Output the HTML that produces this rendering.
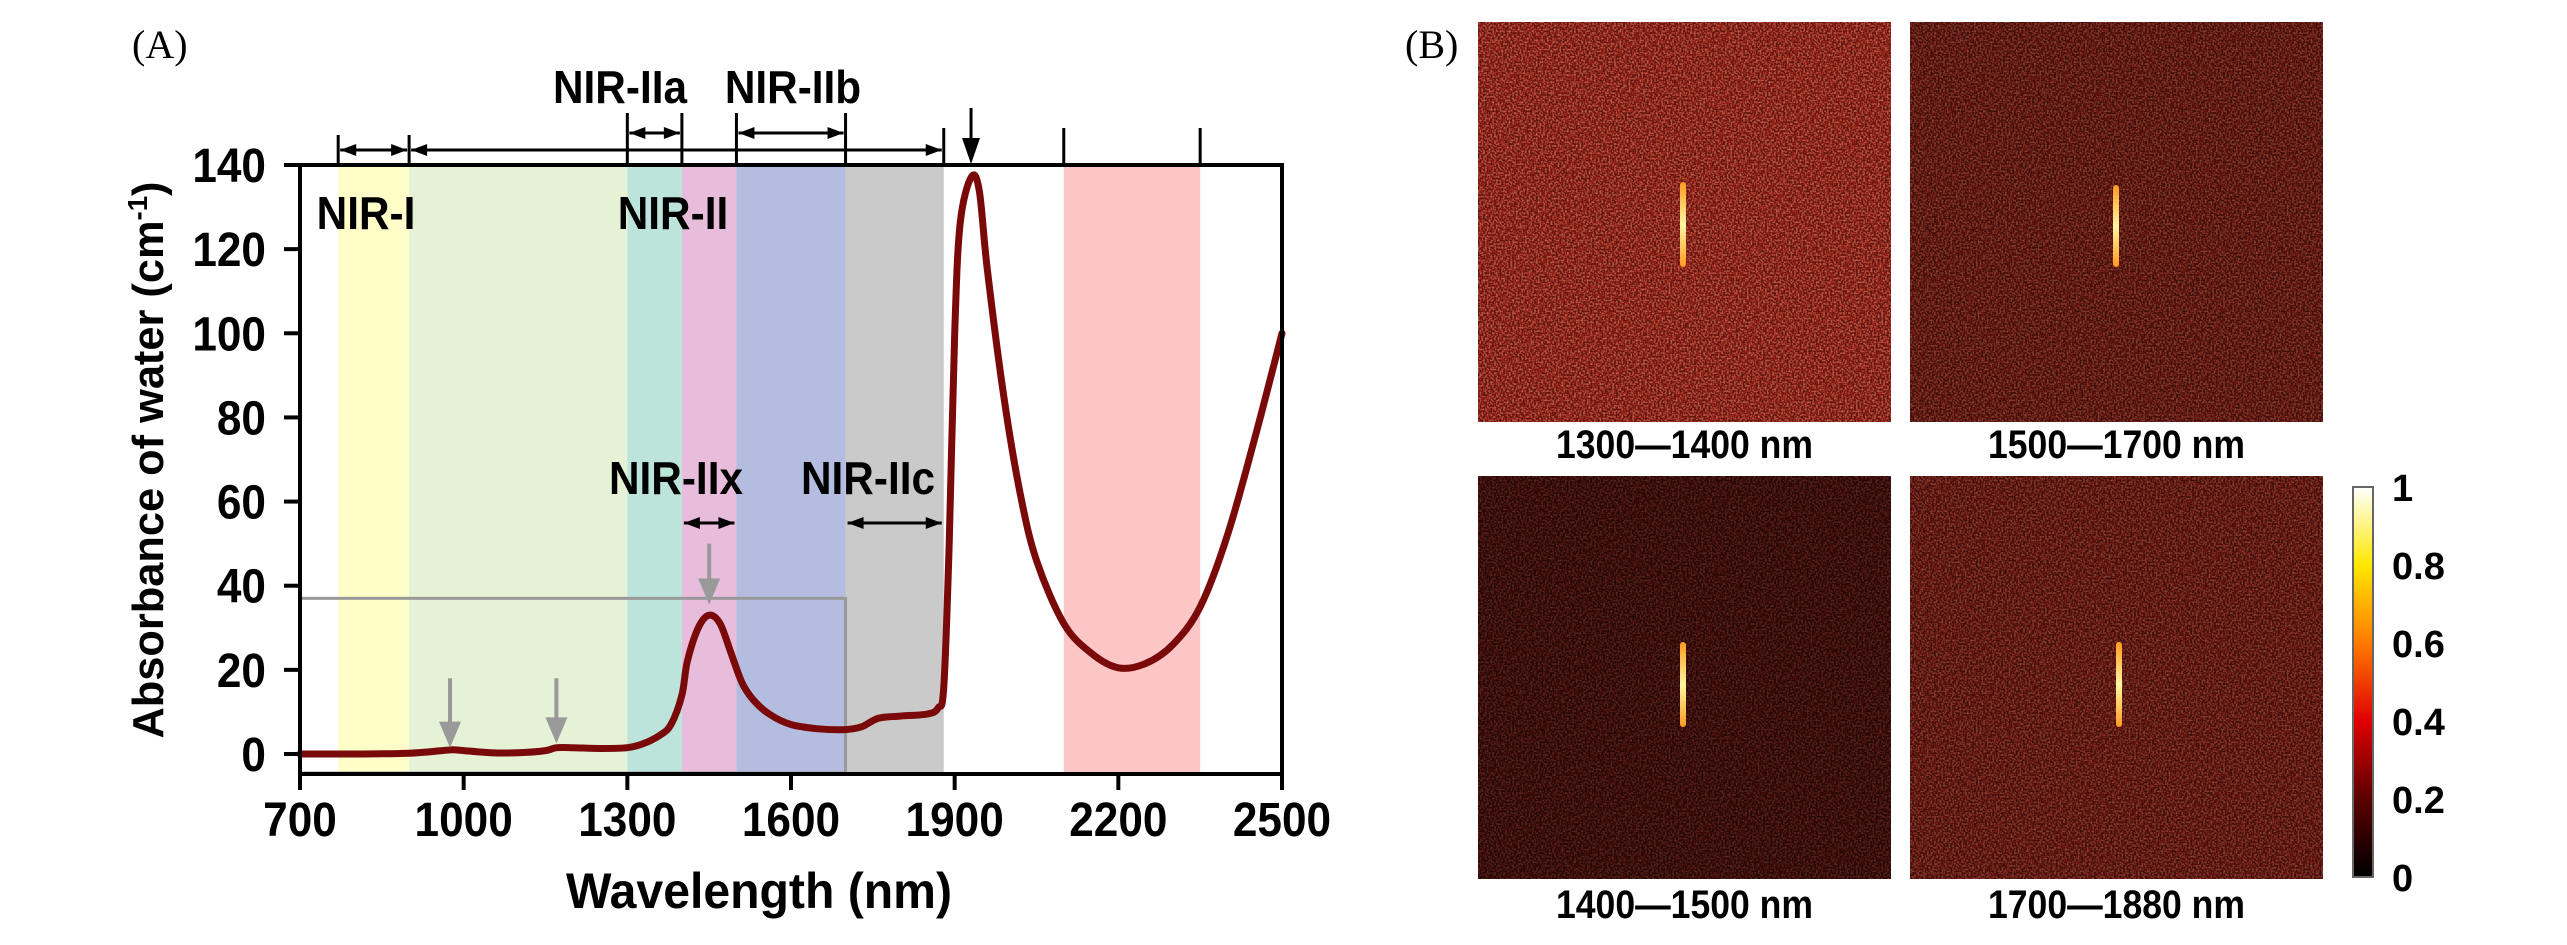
<!DOCTYPE html>
<html><head><meta charset="utf-8"><style>
html,body{margin:0;padding:0;background:#fff;}
svg{display:block;font-family:"Liberation Sans",Arial,sans-serif;}
</style></head><body>
<svg id="fig" width="2567" height="945" viewBox="0 0 2567 945" xmlns="http://www.w3.org/2000/svg">
<defs>
<filter id="noise" x="0" y="0" width="100%" height="100%">
<feTurbulence type="fractalNoise" baseFrequency="0.55" numOctaves="1" seed="3"/>
<feColorMatrix type="matrix" values="2.6 0 0 0 -1.0  0.9 0 0 0 -0.45  0.6 0 0 0 -0.3  0 0 0 0 1"/>
</filter>
<linearGradient id="cbar" x1="0" y1="1" x2="0" y2="0">
<stop offset="0" stop-color="#000"/>
<stop offset="0.2" stop-color="#5a0000"/>
<stop offset="0.4" stop-color="#e00000"/>
<stop offset="0.6" stop-color="#ff7a00"/>
<stop offset="0.8" stop-color="#ffe800"/>
<stop offset="1" stop-color="#ffffff"/>
</linearGradient>
<linearGradient id="beam" x1="0" y1="0" x2="0" y2="1">
<stop offset="0" stop-color="#ff9a20"/><stop offset="0.5" stop-color="#fff6a0"/><stop offset="1" stop-color="#ff9a20"/>
</linearGradient>
</defs>
<text x="132" y="58" font-family="Liberation Serif,serif" font-size="40">(A)</text>
<text x="1405" y="58" font-family="Liberation Serif,serif" font-size="40">(B)</text>
<g id="chartA"></g>
<g id="panelB"></g>
</svg>
<script>
const wavelengths=[700,800,900,960,980,1000,1050,1100,1150,1170,1200,1250,1300,1330,1360,1380,1400,1410,1430,1450,1470,1490,1510,1530,1560,1600,1650,1700,1730,1760,1800,1850,1870,1880,1890,1900,1910,1930,1945,1960,1990,2020,2050,2100,2150,2200,2250,2300,2350,2400,2450,2500];
const absorbance=[0,0,0.2,0.8,1,0.8,0.3,0.3,0.8,1.5,1.5,1.3,1.5,2.5,4.5,7,14,22,30,33,31,24,17,13,9.5,7,6,5.8,6.5,8.5,9,9.5,11,16,50,100,126,137,134,115,85,62,46,31,24,20.5,21.5,26,35,52,75,100];
const xTicks=[700,1000,1300,1600,1900,2200,2500];
const yTicks=[0,20,40,60,80,100,120,140];
const bandStarts=[770,900,1300,1400,1500,1700,2100];
const bandEnds=[900,1300,1400,1500,1700,1880,2350];
const bandColors=["#fffdc8","#e6f2d6","#bde4da","#e8bddc","#b4bde0","#cacaca","#fcc6c6"];
const cbTicks=["1","0.8","0.6","0.4","0.2","0"];
const tileLabels=["1300—1400 nm","1500—1700 nm","1400—1500 nm","1700—1880 nm"];

const NS="http://www.w3.org/2000/svg";
const X0=300,X1=1282,YT=165,YB=774;
const xs=v=>X0+(v-700)/1800*(X1-X0);
const ys=v=>754-v*(754-165)/140;
function mk(p,tag,attrs,txt){const e=document.createElementNS(NS,tag);for(const k in attrs)e.setAttribute(k,attrs[k]);if(txt!==undefined)e.textContent=txt;p.appendChild(e);return e;}
const A=document.getElementById('chartA');
bandStarts.forEach((s,i)=>{
 const r=mk(A,'rect',{x:xs(s),y:YT,width:xs(bandEnds[i])-xs(s),height:YB-YT,fill:bandColors[i]});
 
 
});
const gb=mk(A,'rect',{x:xs(700),y:ys(37),width:xs(1700)-xs(700),height:773-ys(37),fill:'none',stroke:'#999',"stroke-width":3});


// smooth curve (Catmull-Rom)
const pts=wavelengths.map((w,i)=>[xs(w),ys(absorbance[i])]);
let d='M'+pts[0][0].toFixed(1)+','+pts[0][1].toFixed(1);
for(let i=0;i<pts.length-1;i++){
 const p0=pts[Math.max(0,i-1)],p1=pts[i],p2=pts[i+1],p3=pts[Math.min(pts.length-1,i+2)];
 const c1=[p1[0]+(p2[0]-p0[0])/6,p1[1]+(p2[1]-p0[1])/6];
 const c2=[p2[0]-(p3[0]-p1[0])/6,p2[1]-(p3[1]-p1[1])/6];
 d+=`C${c1[0].toFixed(1)},${c1[1].toFixed(1)} ${c2[0].toFixed(1)},${c2[1].toFixed(1)} ${p2[0].toFixed(1)},${p2[1].toFixed(1)}`;
}
const cv=mk(A,'path',{d:d,fill:'none',stroke:'#7a0a0a',"stroke-width":7,"stroke-linejoin":"round","stroke-linecap":"round"});


const fr=mk(A,'rect',{x:X0,y:YT,width:X1-X0,height:YB-YT,fill:'none',stroke:'#000',"stroke-width":4});


xTicks.forEach(t=>{
 mk(A,'line',{x1:xs(t),y1:YB,x2:xs(t),y2:YB+16,stroke:'#000',"stroke-width":4});
 const l=mk(A,'text',{x:xs(t),y:836,"font-size":48,"font-weight":"bold","text-anchor":"middle",transform:`translate(${xs(t)},0) scale(0.92,1) translate(${-xs(t)},0)`},t);
 
 
});
yTicks.forEach(t=>{
 mk(A,'line',{x1:X0-16,y1:ys(t),x2:X0,y2:ys(t),stroke:'#000',"stroke-width":4});
 const l=mk(A,'text',{x:266,y:ys(t)+17,"font-size":48,"font-weight":"bold","text-anchor":"end",transform:`translate(266,0) scale(0.92,1) translate(-266,0)`},t);
 
 
});
const yt=mk(A,'text',{x:0,y:0,"font-size":44,"font-weight":"bold","text-anchor":"middle",transform:'translate(163,460) rotate(-90)',textLength:557,lengthAdjust:"spacingAndGlyphs"},'Absorbance of water (cm');
mk(yt,'tspan',{"font-size":28,dy:-16},'-1');
mk(yt,'tspan',{dy:16},')');


const xt=mk(A,'text',{x:759,y:908,"font-size":50,"font-weight":"bold","text-anchor":"middle",textLength:386,lengthAdjust:"spacingAndGlyphs"},'Wavelength (nm)');


function vline(w,top){mk(A,'line',{x1:xs(w),y1:top,x2:xs(w),y2:YT,stroke:'#000',"stroke-width":3});}
[[770,135],[900,135],[1300,113],[1400,113],[1500,113],[1700,113],[1880,128],[2100,128],[2350,128]].forEach(p=>vline(p[0],p[1]));
function harrow(a,b,y,left,right){
 const x1=xs(a)+2,x2=xs(b)-2;
 mk(A,'line',{x1:x1,y1:y,x2:x2,y2:y,stroke:'#000',"stroke-width":3});
 if(left)mk(A,'path',{d:`M${x1},${y}l16,-6v12z`,fill:'#000'});
 if(right)mk(A,'path',{d:`M${x2},${y}l-16,-6v12z`,fill:'#000'});
}
harrow(770,900,150,1,1);harrow(900,1880,150,1,1);harrow(1300,1400,133,1,1);harrow(1500,1700,133,1,1);
harrow(1400,1500,523,1,1);harrow(1700,1880,523,1,1);
mk(A,'line',{x1:xs(1930),y1:108,x2:xs(1930),y2:140,stroke:'#000',"stroke-width":3});
mk(A,'path',{d:`M${xs(1930)-9},138h18l-9,26z`,fill:'#000'});
[[975,18,2],[1170,18,3],[1450,50,36]].forEach(a=>{
 const x=xs(a[0]);
 mk(A,'line',{x1:x,y1:ys(a[1]),x2:x,y2:ys(a[2])-20,stroke:'#999',"stroke-width":4});
 mk(A,'path',{d:`M${x-11},${ys(a[2])-24}h22l-11,26z`,fill:'#999'});
});
const labs=[["NIR-I",366,229],["NIR-II",673,229],["NIR-IIa",620,103],["NIR-IIb",793,103],["NIR-IIx",676,494],["NIR-IIc",868,494]];
labs.forEach(l=>{
 const t=mk(A,'text',{x:l[1],y:l[2],"font-size":46,"font-weight":"bold","text-anchor":"middle",transform:`translate(${l[1]},0) scale(0.92,1) translate(${-l[1]},0)`},l[0]);
 
 
});
const B=document.getElementById('panelB');
const tiles=[[1478,22,413,400,"#561810"],[1910,22,413,400,"#36100b"],[1478,476,413,403,"#1e0806"],[1910,476,413,403,"#38100b"]];
const beams=[[1683,182,267],[2116,185,267],[1683,642,727],[2119,642,727]];
const labY=[458,458,918,918];
tiles.forEach((t,i)=>{
 const g=mk(B,'g',{});
 
 
 mk(g,'rect',{x:t[0],y:t[1],width:t[2],height:t[3],fill:t[4]});
 mk(g,'rect',{x:t[0],y:t[1],width:t[2],height:t[3],filter:'url(#noise)',opacity:i==2?0.25:(i==0?0.6:0.4),style:'mix-blend-mode:screen'});
 mk(g,'rect',{x:beams[i][0]-3,y:beams[i][1],width:6,height:beams[i][2]-beams[i][1],rx:3,fill:'url(#beam)'});
 const l=mk(B,'text',{x:t[0]+t[2]/2,y:labY[i],"font-size":40,"font-weight":"bold","text-anchor":"middle",textLength:257,lengthAdjust:"spacingAndGlyphs"},tileLabels[i]);
 
 
});
const cb=mk(B,'rect',{x:2353,y:487,width:20,height:390,fill:'url(#cbar)',stroke:'#666',"stroke-width":2});


cbTicks.forEach((t,i)=>{
 const y=487+i*390/5;
 const l=mk(B,'text',{x:2392,y:y+14,"font-size":38,"font-weight":"bold"},t);
 
 
});
</script>
</body></html>
